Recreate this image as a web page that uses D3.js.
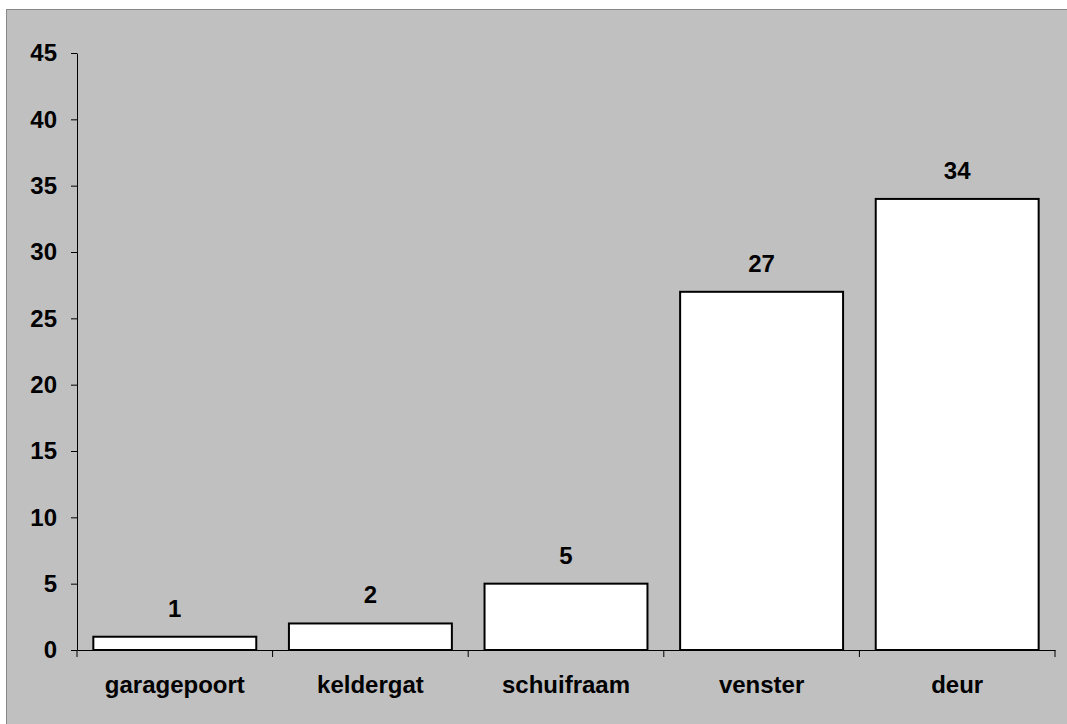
<!DOCTYPE html>
<html><head><meta charset="utf-8">
<script src="https://cdn.jsdelivr.net/npm/d3@7"></script>
<style>body{margin:0;background:#fff}text{font-family:"Liberation Sans",Arial,sans-serif;font-weight:bold}</style>
</head><body>
<svg id="c" width="1067" height="724"></svg>
<script>
const categories = ["garagepoort","keldergat","schuifraam","venster","deur"];
const values = [1,2,5,27,34];
const yTicks = [0,5,10,15,20,25,30,35,40,45];

(function(){
const svg = d3.select("#c");
svg.append("rect").attr("x",6.5).attr("y",9.5).attr("width",1075).attr("height",725)
  .attr("fill","#c0c0c0").attr("stroke","#888");

const pL=77, pR=1055, pT=53, pB=650;
const x = d3.scaleBand().domain(categories).range([pL,pR]).paddingInner(0.167).paddingOuter(0.0835);
const y = d3.scaleLinear().domain([0,45]).range([pB,pT]);

const fs = 24;
const yAxis = svg.append("g").attr("transform",`translate(${pL},0)`)
  .call(d3.axisLeft(y).tickValues(yTicks).tickSize(6).tickPadding(14).tickSizeOuter(0));
yAxis.select(".domain").attr("stroke","#000");
yAxis.selectAll(".tick line").attr("stroke","#000");
yAxis.selectAll("text").attr("font-size",fs).attr("fill","#000").attr("font-family",null);

const xb = d3.scaleBand().domain(categories).range([pL,pR]);
const xAxis = svg.append("g").attr("transform",`translate(0,${pB})`)
  .call(d3.axisBottom(xb).tickSize(0).tickPadding(26).tickSizeOuter(0));
xAxis.select(".domain").attr("stroke","#000");
xAxis.selectAll("text").attr("font-size",fs).attr("fill","#000").attr("font-family",null);
const seps = categories.map(c=>xb(c)).concat([pR]);
svg.append("g").selectAll("line").data(seps).join("line")
  .attr("x1",d=>d).attr("x2",d=>d).attr("y1",pB).attr("y2",pB+7).attr("stroke","#000");

svg.append("g").selectAll("rect").data(values).join("rect")
  .attr("x",(d,i)=>x(categories[i])).attr("width",x.bandwidth())
  .attr("y",d=>y(d)).attr("height",d=>pB-y(d))
  .attr("fill","#fff").attr("stroke","#000").attr("stroke-width",2);

svg.append("g").selectAll("text").data(values).join("text")
  .attr("x",(d,i)=>x(categories[i])+x.bandwidth()/2).attr("y",d=>y(d)-20)
  .attr("text-anchor","middle").attr("font-size",fs).attr("fill","#000").text(d=>d);
})();
</script></body></html>
